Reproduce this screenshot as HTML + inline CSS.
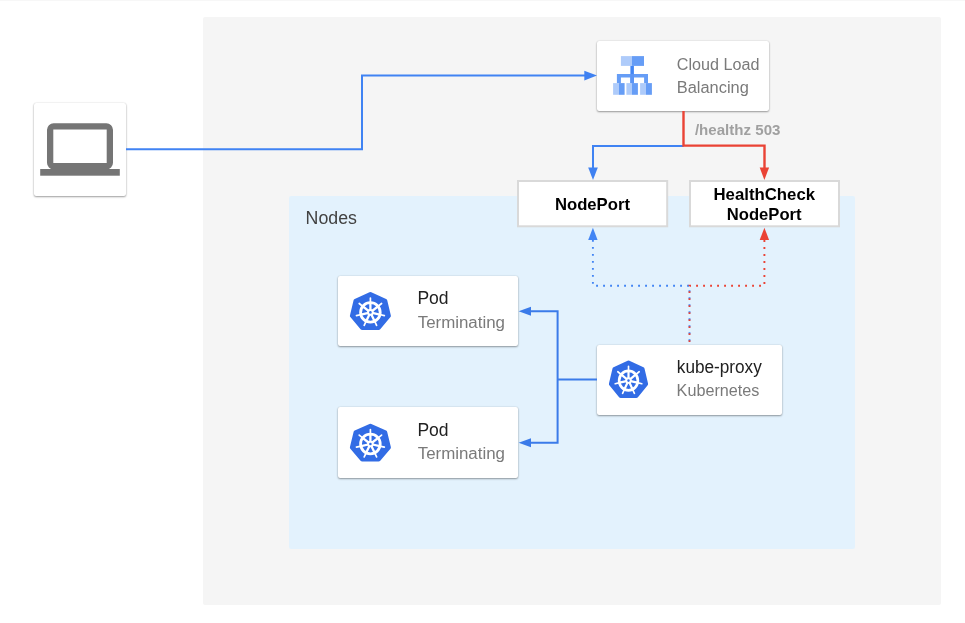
<!DOCTYPE html>
<html>
<head>
<meta charset="utf-8">
<title>Diagram</title>
<style>
html,body{margin:0;padding:0;background:#fff;}
body{width:965px;height:623px;position:relative;overflow:hidden;font-family:"Liberation Sans",sans-serif;}
.abs{position:absolute;}
.card{position:absolute;background:#fff;border-radius:2px;box-shadow:0 1px 2px rgba(0,0,0,.36),0 0 1.5px rgba(0,0,0,.16);}
.box{position:absolute;background:#fff;border:2px solid #d9d9d9;box-sizing:border-box;}
svg{position:absolute;left:0;top:0;will-change:transform;}
text{font-family:"Liberation Sans",sans-serif;}
</style>
</head>
<body>
<div class="abs" style="left:0;top:0;width:965px;height:1px;background:#f7f7f7"></div>
<div class="abs" style="left:203px;top:17px;width:738px;height:588px;background:#f5f5f5;border-radius:2px"></div>
<div class="abs" style="left:289px;top:196px;width:566px;height:353px;background:#e3f2fd;border-radius:2px"></div>

<div class="card" style="left:33.5px;top:102.5px;width:92.5px;height:93px"></div>
<div class="card" style="left:597px;top:40.5px;width:172px;height:70.5px"></div>
<div class="card" style="left:338px;top:276px;width:180px;height:70.2px"></div>
<div class="card" style="left:338px;top:407.4px;width:180px;height:70.2px"></div>
<div class="card" style="left:597px;top:344.8px;width:185px;height:70.1px"></div>

<svg width="965" height="623" viewBox="0 0 965 623">
<defs>
<g id="k8s">
  <g transform="scale(1.06,1)">
    <polygon points="0,-17.8 13.92,-11.1 17.35,3.96 7.72,16.04 -7.72,16.04 -17.35,3.96 -13.92,-11.1" fill="#326ce5" stroke="#326ce5" stroke-width="4" stroke-linejoin="round"/>
  </g>
  <g fill="none" stroke="#fff" stroke-linecap="round" transform="translate(0,0.5)">
    <circle cx="0" cy="0" r="9.8" stroke-width="2.8"/>
    <g stroke-width="2.3">
      <line x1="0.00" y1="-0.00" x2="0.00" y2="-9.50"/>
      <line x1="0.00" y1="-0.00" x2="7.43" y2="-5.92"/>
      <line x1="0.00" y1="0.00" x2="9.26" y2="2.11"/>
      <line x1="0.00" y1="0.00" x2="4.12" y2="8.56"/>
      <line x1="-0.00" y1="0.00" x2="-4.12" y2="8.56"/>
      <line x1="-0.00" y1="0.00" x2="-9.26" y2="2.11"/>
      <line x1="-0.00" y1="-0.00" x2="-7.43" y2="-5.92"/>
    </g>
    <g stroke-width="1.7">
      <line x1="0.00" y1="-9.50" x2="0.00" y2="-14.30"/>
      <line x1="7.43" y1="-5.92" x2="11.18" y2="-8.92"/>
      <line x1="9.26" y1="2.11" x2="13.94" y2="3.18"/>
      <line x1="4.12" y1="8.56" x2="6.20" y2="12.88"/>
      <line x1="-4.12" y1="8.56" x2="-6.20" y2="12.88"/>
      <line x1="-9.26" y1="2.11" x2="-13.94" y2="3.18"/>
      <line x1="-7.43" y1="-5.92" x2="-11.18" y2="-8.92"/>
    </g>
  </g>
  <circle cx="0" cy="0.5" r="3.3" fill="#fff"/>
  <circle cx="0" cy="0.5" r="1.3" fill="#326ce5"/>
</g>
</defs>

<!-- node port boxes -->
<rect x="518" y="181" width="149.2" height="45.3" fill="#fff" stroke="#d9d9d9" stroke-width="2"/>
<rect x="690" y="181" width="149" height="45.3" fill="#fff" stroke="#d9d9d9" stroke-width="2"/>

<!-- laptop icon -->
<g fill="#757575">
  <path fill-rule="evenodd" d="M47,129.8 a6.6,6.6 0 0 1 6.6,-6.6 h52.8 a6.6,6.6 0 0 1 6.6,6.6 v33 a6.6,6.6 0 0 1 -6.6,6.6 h-52.8 a6.6,6.6 0 0 1 -6.6,-6.6 z M53.3,129.6 v33.3 h53.4 v-33.3 z"/>
  <rect x="40.2" y="169" width="79.6" height="6.7"/>
</g>

<!-- laptop to LB line -->
<path d="M126,149.2 H362 V75.6 H585" fill="none" stroke="#4083f3" stroke-width="2"/>
<polygon points="597,75.6 584.3,70.8 584.3,80.4" fill="#3f81f1"/>

<!-- LB icon -->
<g>
  <rect x="620.9" y="56.1" width="11" height="9.8" fill="#aecbfa"/>
  <rect x="631.9" y="56.1" width="12.1" height="9.8" fill="#669df6"/>
  <rect x="630.4" y="65.9" width="3.5" height="17.4" fill="#4285f4"/>
  <path d="M616.9,73.9 H648 V83.3 H644.1 V77.6 H620.9 V83.3 H616.9 Z" fill="#669df6"/>
  <rect x="630.4" y="73.9" width="3.5" height="9.4" fill="#5c95f5"/>
  <rect x="613.1" y="83.1" width="5.8" height="11.7" fill="#aecbfa"/>
  <rect x="618.9" y="83.1" width="5.7" height="11.7" fill="#669df6"/>
  <rect x="626.4" y="83.1" width="5.5" height="11.7" fill="#aecbfa"/>
  <rect x="631.9" y="83.1" width="6" height="11.7" fill="#669df6"/>
  <rect x="640.1" y="83.1" width="5.9" height="11.7" fill="#aecbfa"/>
  <rect x="646" y="83.1" width="5.9" height="11.7" fill="#669df6"/>
</g>

<!-- LB to NodePort (blue) -->
<path d="M683.6,145.9 H593 V168" fill="none" stroke="#4083f3" stroke-width="2"/>
<polygon points="593,180 588.2,167.6 597.8,167.6" fill="#3f81f1"/>
<!-- LB to HC (red) -->
<path d="M683.5,111 V145.6 H764.5 V168" fill="none" stroke="#ea4335" stroke-width="2.4"/>
<polygon points="764.4,180 759.7,167.6 769.1,167.6" fill="#ea4335"/>

<!-- dotted lines -->
<path d="M689.5,344.2 V285.7 H592.9 V240" fill="none" stroke="#4285f4" stroke-width="1.9" stroke-dasharray="1.9 5.1" stroke-dashoffset="4"/>
<path d="M689.5,344.2 V285.7 H764.4 V240" fill="none" stroke="#ea4335" stroke-width="1.9" stroke-dasharray="1.9 5.1" stroke-dashoffset="4.9"/>
<polygon points="592.9,227.7 588.2,240 597.6,240" fill="#4285f4"/>
<polygon points="764.4,227.7 759.7,240 769.1,240" fill="#ea4335"/>

<!-- kube-proxy to pods -->
<path d="M597,379.4 H557.6 M530,311.3 H557.6 V442.7 H530" fill="none" stroke="#3b7be9" stroke-width="2"/>
<polygon points="518.6,311.3 531,306.8 531,315.8" fill="#3b7be9"/>
<polygon points="518.6,442.7 531,438.2 531,447.2" fill="#3b7be9"/>

<!-- k8s icons -->
<use href="#k8s" x="370.4" y="311.9"/>
<use href="#k8s" x="370.4" y="443.5"/>
<use href="#k8s" transform="translate(628.5,380.1) scale(0.955,0.99)"/>

<!-- texts -->
<text x="305.6" y="224" font-size="17.5" fill="#424242" textLength="51.4" lengthAdjust="spacingAndGlyphs">Nodes</text>
<text x="676.8" y="70" font-size="16" fill="#7a7a7a" textLength="82.6" lengthAdjust="spacingAndGlyphs">Cloud Load</text>
<text x="676.8" y="93" font-size="16" fill="#7a7a7a" textLength="72" lengthAdjust="spacingAndGlyphs">Balancing</text>
<text x="694.9" y="135.4" font-size="14.5" font-weight="bold" fill="#a0a0a0" textLength="85.6" lengthAdjust="spacingAndGlyphs">/healthz 503</text>
<text x="554.9" y="210" font-size="16.5" font-weight="bold" fill="#000" textLength="75.1" lengthAdjust="spacingAndGlyphs">NodePort</text>
<text x="713.5" y="199.8" font-size="16.5" font-weight="bold" fill="#000" textLength="101.6" lengthAdjust="spacingAndGlyphs">HealthCheck</text>
<text x="726.8" y="219.6" font-size="16.5" font-weight="bold" fill="#000" textLength="74.8" lengthAdjust="spacingAndGlyphs">NodePort</text>
<text x="417.4" y="304.1" font-size="17.5" fill="#212121" textLength="31.2" lengthAdjust="spacingAndGlyphs">Pod</text>
<text x="417.7" y="327.8" font-size="16" fill="#7a7a7a" textLength="87.3" lengthAdjust="spacingAndGlyphs">Terminating</text>
<text x="417.4" y="435.5" font-size="17.5" fill="#212121" textLength="31.2" lengthAdjust="spacingAndGlyphs">Pod</text>
<text x="417.7" y="459.2" font-size="16" fill="#7a7a7a" textLength="87.3" lengthAdjust="spacingAndGlyphs">Terminating</text>
<text x="676.8" y="373.1" font-size="17.5" fill="#212121" textLength="85" lengthAdjust="spacingAndGlyphs">kube-proxy</text>
<text x="676.6" y="395.9" font-size="16" fill="#7a7a7a" textLength="82.8" lengthAdjust="spacingAndGlyphs">Kubernetes</text>
</svg>
</body>
</html>
